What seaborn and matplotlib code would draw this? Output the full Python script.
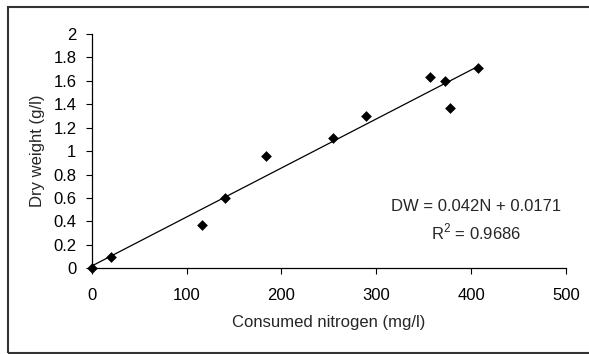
import numpy as np
import pandas as pd
import seaborn as sns
import matplotlib.pyplot as plt
from matplotlib.patches import Rectangle

# Data
nitrogen = [0, 20, 116, 141, 184, 254, 289, 357, 372, 378, 407]
dry_weight = [0.0, 0.10, 0.37, 0.60, 0.96, 1.11, 1.30, 1.63, 1.60, 1.37, 1.71]
x_ticks = [0, 100, 200, 300, 400, 500]
y_ticks = [0, 0.2, 0.4, 0.6, 0.8, 1, 1.2, 1.4, 1.6, 1.8, 2]
eq_label = "DW = 0.042N + 0.0171"
r2_label = "R$^2$ = 0.9686"

df = pd.DataFrame({'N': nitrogen, 'DW': dry_weight})

sns.set_style('ticks')
plt.rcParams['font.family'] = ['Liberation Sans', 'DejaVu Sans']
plt.rcParams['mathtext.fontset'] = 'custom'
plt.rcParams['mathtext.rm'] = 'Liberation Sans'

fig = plt.figure(figsize=(5.89, 3.54), dpi=100)
ax = fig.add_axes([0.1557, 0.2421, 0.961 - 0.1557, 0.904 - 0.2421])

# trendline (least squares over the data range)
sns.regplot(data=df, x='N', y='DW', ax=ax, scatter=False, ci=None,
            truncate=True, line_kws={'color': 'black', 'linewidth': 0.9})
sns.scatterplot(data=df, x='N', y='DW', ax=ax, marker='D', s=30,
                color='black', edgecolor='black', linewidth=0, zorder=3,
                clip_on=False)

ax.set_xlim(0, 500)
ax.set_ylim(0, 2)
ax.set_xticks(x_ticks)
ax.set_yticks(y_ticks)
ax.set_xticklabels([str(v) for v in x_ticks])
ax.set_yticklabels([f"{v:g}" for v in y_ticks])
ax.tick_params(axis='both', direction='out', length=4, width=0.8,
               colors='black', labelsize=12)
ax.tick_params(axis='x', pad=10)
ax.tick_params(axis='y', pad=7)
ax.set_xlabel("Consumed nitrogen (mg/l)", fontsize=12, labelpad=9)
ax.set_ylabel("Dry weight (g/l)", fontsize=12, labelpad=6)
sns.despine(ax=ax)
for sp in ['left', 'bottom']:
    ax.spines[sp].set_linewidth(0.9)
    ax.spines[sp].set_color('black')

ax.text(405, 0.526, eq_label, ha='center', va='center', fontsize=12)
ax.text(405, 0.312, r2_label, ha='center', va='center', fontsize=12)

# outer chart frame
fig.patches.append(Rectangle((7.7 / 589, 1 - 352.7 / 354), 1.2, (352.7 - 6.7) / 354,
                             transform=fig.transFigure, fill=False,
                             edgecolor='#333333', linewidth=1.5))

fig.savefig('out.png', dpi=100)
